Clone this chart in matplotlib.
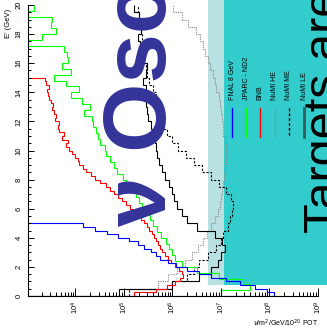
import numpy as np
import matplotlib
matplotlib.use("Agg")
import matplotlib.pyplot as plt
from matplotlib.patches import Rectangle
from matplotlib.lines import Line2D

plt.rcParams['font.family'] = ['Liberation Sans', 'DejaVu Sans']

# log10 of flux per energy bin (0 = empty bin)
blue_edges = np.arange(0, 5.01, 0.25)
blue_log = [8.1, 7.95, 7.7, 7.4, 7.1, 6.8, 6.55, 6.3, 6.08, 5.9,
            5.75, 5.66, 5.55, 5.42, 5.28, 5.1, 4.88, 4.65, 4.4, 4.15]

red_edges = np.arange(0, 15.01, 0.25)
red_log = [5.2, 5.65, 5.88, 6.05, 6.16, 6.21, 6.2, 6.14, 6.05, 5.97,
           5.9, 5.84, 5.79, 5.75, 5.71, 5.67, 5.62, 5.57, 5.52, 5.47,
           5.42, 5.36, 5.28, 5.2, 5.12, 5.04, 4.96, 4.88, 4.8, 4.72,
           4.63, 4.5, 4.4, 4.32, 4.22, 4.15, 4.08, 4.05, 3.98, 3.92,
           3.86, 3.8, 3.84, 3.72, 3.76, 3.66, 3.63, 3.65, 3.58, 3.6,
           3.55, 3.52, 3.54, 3.5, 3.46, 3.44, 3.41, 3.45, 3.39, 3.38]

green_edges = np.arange(0, 20.01, 0.4)
green_log = [7.0, 7.6, 7.45, 6.95, 6.5, 6.2, 6.06, 6.0, 5.93, 5.86,
             5.76, 5.68, 5.6, 5.53, 5.45, 5.38, 5.3, 5.25, 5.16, 5.05,
             4.97, 4.86, 4.8, 4.72, 4.62, 4.6, 4.5, 4.46, 4.42, 4.36,
             4.35, 4.18, 4.3, 4.14, 3.9, 4.08, 3.8, 3.56, 3.9, 3.72,
             3.85, 3.83, 3.77, 0, 3.3, 3.6, 3.49, 3.52, 0, 3.15]

numi_edges = np.arange(0, 20.01, 0.5)
le_log = [4.9, 6.0, 6.55, 6.8, 6.93, 7.0, 7.08, 7.02, 6.88, 6.5,
          6.3, 6.2, 6.1, 6.04, 5.98, 5.93, 5.85, 5.78, 5.72, 5.68,
          5.65, 5.63, 5.6, 5.56, 5.5, 5.48, 5.46, 5.38, 5.45, 5.4,
          5.45, 5.48, 5.38, 5.35, 5.33, 5.28, 5.35, 5.25, 5.3, 5.2]
me_log = [5.1, 6.0, 6.3, 6.45, 6.55, 6.73, 6.9, 7.0, 7.05, 7.15,
          7.18, 7.22, 7.24, 7.2, 7.1, 6.95, 6.8, 6.6, 6.45, 6.28,
          6.12, 5.98, 5.88, 5.8, 5.76, 5.7, 5.7, 5.65, 5.6, 5.52,
          5.48, 5.45, 5.42, 5.4, 5.4, 5.38, 5.35, 5.32, 5.3, 5.28]
he_log = [5.0, 5.7, 5.9, 6.1, 6.25, 6.4, 6.52, 6.62, 6.72, 6.8,
          6.88, 6.93, 6.97, 7.0, 7.03, 7.05, 7.07, 7.09, 7.1, 7.1,
          7.1, 7.08, 7.05, 7.04, 7.02, 7.0, 6.98, 6.95, 6.9, 6.87,
          6.83, 6.78, 6.74, 6.68, 6.62, 6.56, 6.48, 6.32, 6.2, 6.02]

legend_labels = ["FNAL 8 GeV", "JPARC - ND2", "BNB", "NuMI HE", "NuMI ME", "NuMI LE"]


def flux(logs):
    logs = np.array(logs, dtype=float)
    return np.where(logs > 0, 10 ** logs, 0.0)


W, H = 327, 328
fig = plt.figure(figsize=(W / 100, H / 100), dpi=100)
fig.patch.set_facecolor('white')

# slide boxes behind the plot
fig.add_artist(Rectangle((208 / W, 43 / H), 16 / W, 285 / H, transform=fig.transFigure,
                         facecolor='#b9e1e1', edgecolor='none', zorder=-2))
fig.add_artist(Rectangle((224 / W, 43 / H), 103 / W, 285 / H, transform=fig.transFigure,
                         facecolor='#33cccc', edgecolor='none', zorder=-2))

ax = fig.add_axes([28 / W, 32 / H, 290 / W, 291 / H])
ax.set_facecolor('none')
ax.set_xscale('log')

lw = 0.8
ax.stairs(flux(he_log), numi_edges, orientation='horizontal', baseline=None,
          color='#888888', lw=lw, ls=(0, (1, 1)))
ax.stairs(flux(me_log), numi_edges, orientation='horizontal', baseline=None,
          color='black', lw=lw, ls=(0, (2, 1.5)))
ax.stairs(flux(le_log), numi_edges, orientation='horizontal', baseline=None,
          color='black', lw=lw)
ax.stairs(flux(red_log), red_edges, orientation='horizontal', baseline=0,
          color='red', lw=lw)
ax.stairs(flux(green_log), green_edges, orientation='horizontal', baseline=None,
          color='#00ff00', lw=lw)
ax.stairs(flux(blue_log), blue_edges, orientation='horizontal', baseline=0,
          color='blue', lw=lw)

ax.set_xlim(1.05e3, 1e9)
ax.set_ylim(0, 20)
ax.set_yticks(np.arange(0, 21, 2))
ax.set_yticks(np.arange(0, 20.1, 0.5), minor=True)
for s in ['top', 'right']:
    ax.spines[s].set_visible(False)
ax.tick_params(which='both', direction='in', labelsize=5.5, width=0.7)
ax.tick_params(axis='x', which='major', length=6)
ax.tick_params(axis='x', which='minor', length=3)
ax.tick_params(axis='y', which='major', length=4.5)
ax.tick_params(axis='y', which='minor', length=2.5)
ax.tick_params(axis='both', labelrotation=90)
for lab in ax.get_yticklabels():
    lab.set_va('center')
ax.tick_params(axis='y', pad=4)

fig.text(8 / W, 1 - 9 / H, "E' (GeV)", rotation=90, ha='center', va='top', fontsize=5.5)
fig.text(318 / W, 1 - 323 / H, r"$\nu$/m$^2$/GeV/10$^{20}$ POT", ha='right', va='center', fontsize=5)

# legend drawn by hand (rotated)
leg_x = [232, 246, 260, 275, 289, 304]
leg_colors = ['blue', '#00ff00', 'red', '#888888', 'black', '#2f5f5f']
leg_styles = ['-', '-', '-', (0, (1, 1)), (0, (2, 1.5)), '-']
leg_widths = [1, 1, 1, 1, 1, 2]
for xp, lab, c, st, w in zip(leg_x, legend_labels, leg_colors, leg_styles, leg_widths):
    fig.add_artist(Line2D([xp / W, xp / W], [1 - 108 / H, 1 - 137 / H], transform=fig.transFigure,
                          color=c, ls=st, lw=w))
    fig.text(xp / W, 1 - 100 / H, lab, rotation=90, rotation_mode='anchor',
             ha='left', va='center', fontsize=5)

fig.text(338 / W, 1 - 233 / H, "Targets are", rotation=90, rotation_mode='anchor',
         ha='left', va='baseline', fontsize=35, color='black')
fig.text(166 / W, 1 - 226 / H, "\u03bd Osc", rotation=90, rotation_mode='anchor',
         ha='left', va='baseline', fontsize=64, fontweight='bold', color='#333399', zorder=5)

fig.savefig('out.png', dpi=100)
